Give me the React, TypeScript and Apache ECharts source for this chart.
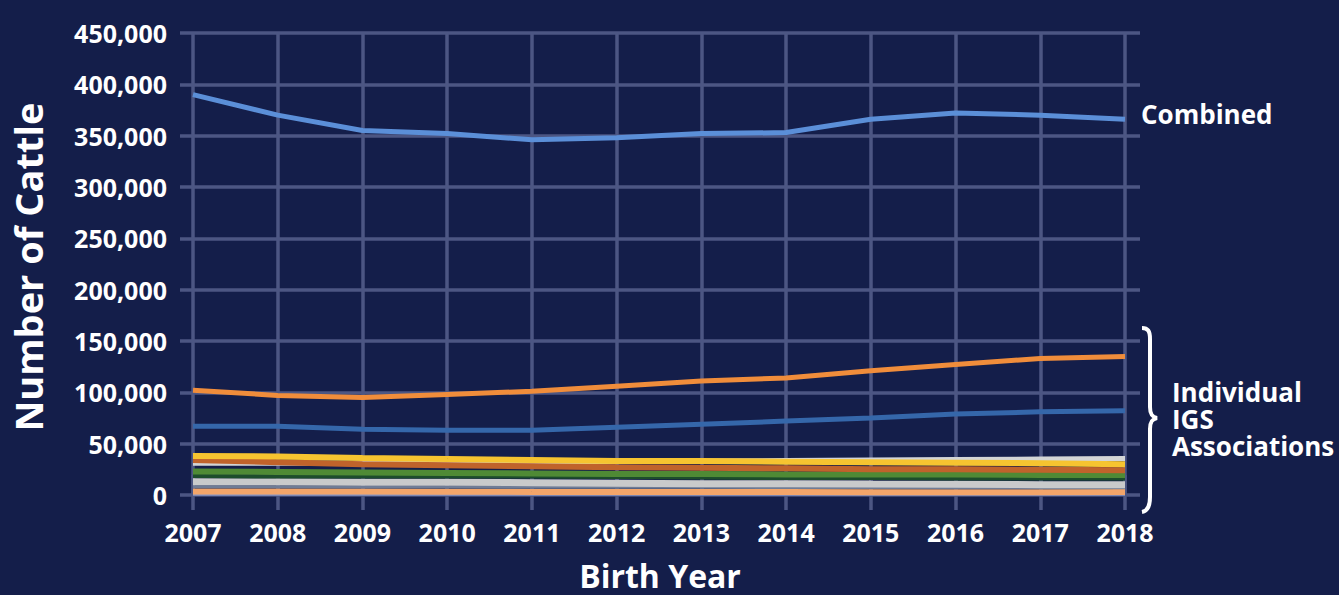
import React, { useEffect, useRef } from "react";
import * as echarts from "echarts";

const years = ["2007", "2008", "2009", "2010", "2011", "2012", "2013", "2014", "2015", "2016", "2017", "2018"];
const yTicks = [0, 50000, 100000, 150000, 200000, 250000, 300000, 350000, 400000, 450000];

const combined = [390000, 370000, 355000, 352000, 346000, 348000, 352000, 353000, 366000, 372000, 370000, 366000];
const assocOrange = [102000, 97000, 95000, 98000, 101000, 106000, 111000, 114000, 121000, 127000, 133000, 135000];
const assocBlue = [67000, 67000, 64000, 63000, 63000, 66000, 69000, 72000, 75000, 79000, 81000, 82000];
const assocSilver = [31000, 31000, 31000, 31500, 32000, 32500, 33000, 33500, 34000, 34500, 35000, 35500];
const assocYellow = [38000, 37500, 36000, 35000, 34000, 33000, 33000, 32500, 32000, 31500, 31000, 30000];
const assocBrown = [34000, 32000, 30000, 29000, 28000, 27000, 26500, 26000, 25000, 25000, 24500, 24000];
const assocGreen = [23000, 22500, 22000, 21500, 21000, 20500, 20500, 20000, 20000, 20000, 19500, 19500];
const assocDarkGreen = [18500, 18000, 18000, 18000, 18000, 17500, 17000, 16500, 16500, 16000, 16000, 16000];
const assocLightGrey = [13000, 13000, 12500, 12500, 12000, 11500, 11000, 11000, 10700, 10500, 10000, 10000];
const assocSlate = [8000, 8000, 7800, 7800, 7500, 7500, 7500, 7300, 7200, 7000, 7000, 7000];
const assocPeach = [3500, 3500, 3500, 3200, 3000, 3000, 3000, 3000, 2800, 2800, 2800, 3000];
const assocBottom = [800, 800, 800, 800, 800, 800, 800, 800, 800, 800, 800, 800];

const seriesDefs = [
  { name: "Bottom", data: assocBottom, color: "#8a96c4", width: 3 },
  { name: "Peach", data: assocPeach, color: "#f3a56a", width: 6 },
  { name: "Slate", data: assocSlate, color: "#6f7c96", width: 3 },
  { name: "Light grey", data: assocLightGrey, color: "#c9cacb", width: 7 },
  { name: "Dark green", data: assocDarkGreen, color: "#1d4d2c", width: 4 },
  { name: "Green", data: assocGreen, color: "#4f8a35", width: 6 },
  { name: "Silver", data: assocSilver, color: "#d3d5d6", width: 5 },
  { name: "Brown", data: assocBrown, color: "#c0632b", width: 6 },
  { name: "Yellow", data: assocYellow, color: "#f6c430", width: 6 },
  { name: "Blue", data: assocBlue, color: "#3567aa", width: 5 },
  { name: "Orange", data: assocOrange, color: "#f08d3b", width: 5 },
  { name: "Combined", data: combined, color: "#5b8fd8", width: 5 },
];

const BG = "#141e4a";
const GRID = "#4c5683";
const FONT = "'Open Sans', 'Noto Sans', sans-serif";

const bracePath =
  "M 2 3 C 8 3 10 6 10 14 L 10 82 C 10 89 12 92 17 93 C 12 94 10 97 10 104 L 10 172 C 10 180 8 186 2 187";
echarts.graphic.registerShape("brace", echarts.graphic.extendPath(bracePath, {}) as any);

const label = (text: string, x: number, y: number, size: number, lh: number, align = "left", rotation = 0) => ({
  type: "text",
  x,
  y,
  rotation,
  style: {
    text,
    fill: "#ffffff",
    font: `bold ${size}px ${FONT}`,
    lineHeight: lh,
    align,
    verticalAlign: "middle",
  },
});

export default function App() {
  const ref = useRef<HTMLDivElement>(null);
  useEffect(() => {
    document.body.style.margin = "0";
    const chart = echarts.init(ref.current!, null, { renderer: "svg" });
    const fmt = (v: number) => v.toLocaleString("en-US");
    chart.setOption({
      animation: false,
      backgroundColor: BG,
      grid: { left: 193, right: 214, top: 33, bottom: 100 },
      xAxis: [
        {
          type: "category",
          data: years,
          boundaryGap: false,
          axisLine: { show: false },
          axisTick: { show: true, length: 15, lineStyle: { color: GRID, width: 3.5 } },
          splitLine: { show: true, lineStyle: { color: GRID, width: 3.5 } },
          axisLabel: { color: "#ffffff", fontFamily: FONT, fontWeight: "bold", fontSize: 25, margin: 24 },
        },
        {
          type: "category",
          data: years,
          position: "top",
          boundaryGap: false,
          axisLine: { show: false },
          axisTick: { show: true, length: 20, lineStyle: { color: GRID, width: 3.5 } },
          splitLine: { show: false },
          axisLabel: { show: false },
        },
      ],
      yAxis: [
        {
          type: "value",
          min: 0,
          max: 450000,
          interval: 50000,
          axisLine: { show: false },
          axisTick: { show: true, length: 13, lineStyle: { color: GRID, width: 3.5 } },
          splitLine: { show: true, lineStyle: { color: GRID, width: 3.5 } },
          axisLabel: {
            color: "#ffffff",
            fontFamily: FONT,
            fontWeight: "bold",
            fontSize: 25,
            margin: 26,
            formatter: (v: number) => (yTicks.includes(v) ? fmt(v) : ""),
          },
        },
        {
          type: "value",
          min: 0,
          max: 450000,
          interval: 50000,
          position: "right",
          axisLine: { show: false },
          axisTick: { show: true, length: 15, lineStyle: { color: GRID, width: 3.5 } },
          splitLine: { show: false },
          axisLabel: { show: false },
        },
      ],
      series: seriesDefs.map((s) => ({
        name: s.name,
        type: "line",
        data: s.data,
        showSymbol: false,
        symbol: "none",
        lineStyle: { color: s.color, width: s.width },
        itemStyle: { color: s.color },
        emphasis: { disabled: true },
      })),
      graphic: [
        label("Birth Year", 660, 575, 32, 32, "center"),
        label("Number of Cattle", 28, 267, 38, 38, "center", Math.PI / 2),
        label("Combined", 1141, 114, 26, 26),
        label("Individual", 1172, 392, 26, 26),
        label("IGS", 1172, 419, 26, 26),
        label("Associations", 1172, 446, 26, 26),
        {
          type: "brace",
          x: 1140,
          y: 325,
          style: { stroke: "#ffffff", fill: "none", lineWidth: 4 },
        },
      ],
    });
    return () => chart.dispose();
  }, []);
  return <div ref={ref} style={{ width: 1339, height: 595, position: "absolute", left: 0, top: 0 }} />;
}
